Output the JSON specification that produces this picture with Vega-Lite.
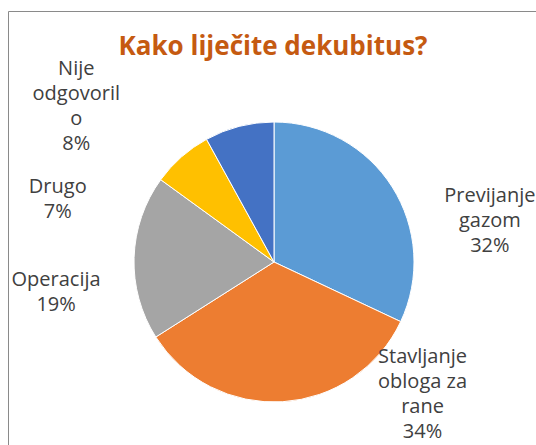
{
  "$schema": "https://vega.github.io/schema/vega-lite/v6.json",
  "width": 532,
  "height": 502,
  "autosize": {"type": "none"},
  "padding": {"left": 8, "top": 11, "right": -4, "bottom": -68},
  "background": "white",
  "view": {"stroke": "#8a8a8a", "strokeWidth": 1},
  "title": {
    "text": "Kako liječite dekubitus?",
    "font": "Open Sans",
    "fontSize": 26,
    "fontWeight": "bold",
    "color": "#C55A11",
    "anchor": "middle",
    "frame": "group",
    "offset": -70,
    "baseline": "alphabetic",
    "dx": -1
  },
  "data": {
    "values": [
      {"i": 1, "c": "Previjanje gazom", "v": 32, "t": "Previjanje\ngazom\n32%"},
      {"i": 2, "c": "Stavljanje obloga za rane", "v": 34, "t": "Stavljanje\nobloga za\nrane\n34%"},
      {"i": 3, "c": "Operacija", "v": 19, "t": "Operacija\n19%"},
      {"i": 4, "c": "Drugo", "v": 7, "t": "Drugo\n7%"},
      {"i": 5, "c": "Nije odgovorilo", "v": 8, "t": "Nije\nodgovoril\no\n8%"}
    ]
  },
  "layer": [
    {
      "mark": {"type": "arc", "outerRadius": 140, "stroke": "white", "strokeWidth": 1},
      "encoding": {
        "theta": {"field": "v", "type": "quantitative", "stack": true},
        "order": {"field": "i", "type": "quantitative"},
        "color": {
          "field": "c",
          "type": "nominal",
          "scale": {
            "domain": ["Previjanje gazom", "Stavljanje obloga za rane", "Operacija", "Drugo", "Nije odgovorilo"],
            "range": ["#5B9BD5", "#ED7D31", "#A5A5A5", "#FFC000", "#4472C4"]
          },
          "legend": null
        }
      }
    },
    {
      "mark": {
        "type": "text",
        "radius": 200,
        "font": "Open Sans",
        "fontSize": 20,
        "lineHeight": 25,
        "lineBreak": "\n",
        "align": "center",
        "baseline": "middle",
        "fill": "#404040",
        "dx": {"expr": "[47,136,-18,-84,-148][datum.i-1]"},
        "dy": {"expr": "[41,-104.5,24.5,75.5,0.5][datum.i-1]"}
      },
      "encoding": {
        "theta": {"field": "v", "type": "quantitative", "stack": true},
        "order": {"field": "i", "type": "quantitative"},
        "text": {"field": "t"}
      }
    }
  ]
}
